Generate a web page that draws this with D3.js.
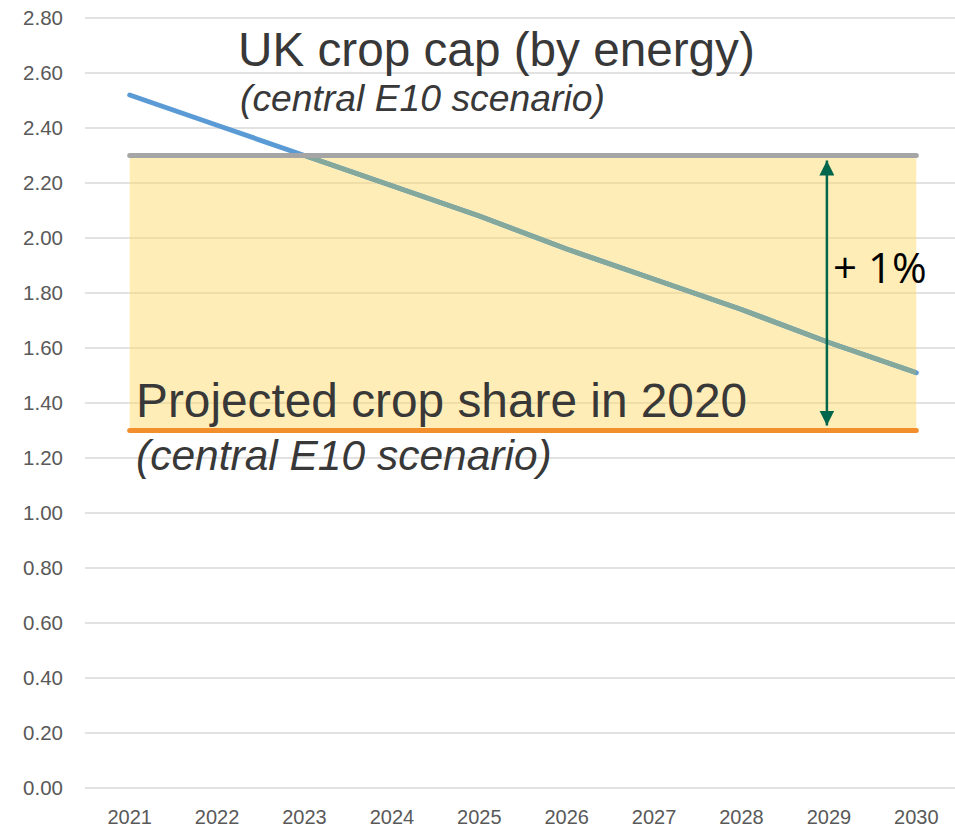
<!DOCTYPE html>
<html>
<head>
<meta charset="utf-8">
<script src="https://cdn.jsdelivr.net/npm/d3@7"></script>
<style>
  body { margin: 0; background: #fff; }
  svg { display: block; }
</style>
</head>
<body>
<div id="chart"></div>
<script>
// data
const years = ['2021', '2022', '2023', '2024', '2025', '2026', '2027', '2028', '2029', '2030'];
const cropShare = [2.52, 2.41, 2.30, 2.19, 2.08, 1.96, 1.85, 1.74, 1.62, 1.51];
const cropCap = 2.30;
const projected2020 = 1.30;
const yTicks = [0, 0.2, 0.4, 0.6, 0.8, 1.0, 1.2, 1.4, 1.6, 1.8, 2.0, 2.2, 2.4, 2.6, 2.8];

const width = 955, height = 829;
const margin = {top: 18, right: -5, bottom: 41, left: 86};

const svg = d3.select('#chart').append('svg')
  .attr('width', width)
  .attr('height', height);

const x = d3.scaleBand().domain(years).range([margin.left, width - margin.right]).padding(0);
const y = d3.scaleLinear().domain([0, 2.8]).range([height - margin.bottom, margin.top]);
const cx = d => x(d) + x.bandwidth() / 2;

const font = '"Liberation Sans", Arial, sans-serif';

// gridlines
svg.append('g')
  .selectAll('line')
  .data(yTicks)
  .enter().append('line')
    .attr('x1', margin.left - 1)
    .attr('x2', width)
    .attr('y1', d => y(d))
    .attr('y2', d => y(d))
    .attr('stroke', '#d9d9d9')
    .attr('stroke-width', 1.5);

// y axis labels
svg.append('g')
  .selectAll('text')
  .data(yTicks)
  .enter().append('text')
    .attr('x', 63)
    .attr('y', d => y(d) + 7)
    .attr('text-anchor', 'end')
    .attr('font-family', font)
    .attr('font-size', 20.5)
    .attr('fill', '#595959')
    .text(d => d3.format('.2f')(d));

// x axis labels
svg.append('g')
  .selectAll('text')
  .data(years)
  .enter().append('text')
    .attr('x', d => cx(d))
    .attr('y', 824)
    .attr('text-anchor', 'middle')
    .attr('font-family', font)
    .attr('font-size', 20)
    .attr('fill', '#595959')
    .text(d => d);

// band between 2020 share and cap
const bandX0 = cx(years[0]), bandX1 = cx(years[years.length - 1]);
svg.append('rect')
  .attr('x', bandX0)
  .attr('y', y(cropCap))
  .attr('width', bandX1 - bandX0)
  .attr('height', y(projected2020) - y(cropCap))
  .attr('fill', '#ffd966')
  .attr('fill-opacity', 0.47);

svg.append('clipPath').attr('id', 'bandClip')
  .append('rect')
    .attr('x', bandX0)
    .attr('y', y(cropCap))
    .attr('width', bandX1 - bandX0)
    .attr('height', y(projected2020) - y(cropCap));

const line = d3.line()
  .x((d, i) => cx(years[i]))
  .y(d => y(d));

svg.append('path')
  .datum(cropShare)
  .attr('d', line)
  .attr('fill', 'none')
  .attr('stroke', '#5b9bd5')
  .attr('stroke-width', 5)
  .attr('stroke-linecap', 'round')
  .attr('stroke-linejoin', 'round');

// part of the line seen through the band
svg.append('path')
  .datum(cropShare)
  .attr('d', line)
  .attr('clip-path', 'url(#bandClip)')
  .attr('fill', 'none')
  .attr('stroke', '#84a89b')
  .attr('stroke-width', 5)
  .attr('stroke-linecap', 'round')
  .attr('stroke-linejoin', 'round');

// cap and 2020 lines
const levels = [
  {value: cropCap, color: '#a5a5a5'},
  {value: projected2020, color: '#f28e2b'}
];
svg.append('g')
  .selectAll('line')
  .data(levels)
  .enter().append('line')
    .attr('x1', bandX0)
    .attr('x2', bandX1)
    .attr('y1', d => y(d.value))
    .attr('y2', d => y(d.value))
    .attr('stroke', d => d.color)
    .attr('stroke-width', 5)
    .attr('stroke-linecap', 'round');

// double arrow
const defs = svg.append('defs');
defs.append('marker')
  .attr('id', 'arrowHead')
  .attr('viewBox', '0 0 10 10')
  .attr('refX', 10)
  .attr('refY', 5)
  .attr('markerWidth', 6)
  .attr('markerHeight', 6)
  .attr('markerUnits', 'strokeWidth')
  .attr('orient', 'auto-start-reverse')
  .append('path')
    .attr('d', 'M0,0 L10,5 L0,10 Z')
    .attr('fill', '#00664c');

const arrowX = cx('2029') - 2;
svg.append('line')
  .attr('x1', arrowX)
  .attr('x2', arrowX)
  .attr('y1', y(cropCap) + 5)
  .attr('y2', y(projected2020) - 5)
  .attr('stroke', '#00664c')
  .attr('stroke-width', 2.5)
  .attr('marker-start', 'url(#arrowHead)')
  .attr('marker-end', 'url(#arrowHead)');

svg.append('text')
  .attr('x', 833)
  .attr('y', 283)
  .attr('font-family', '"Open Sans", Arial, sans-serif')
  .attr('font-size', 42)
  .attr('fill', '#000')
  .text('+ 1%');

// annotations
const notes = [
  {text: 'UK crop cap (by energy)', x: 238, y: 66, size: 47.7, italic: false},
  {text: '(central E10 scenario)', x: 240, y: 111, size: 37.3, italic: true},
  {text: 'Projected crop share in 2020', x: 136, y: 417, size: 47.8, italic: false},
  {text: '(central E10 scenario)', x: 136, y: 470, size: 42.5, italic: true}
];
svg.append('g')
  .selectAll('text')
  .data(notes)
  .enter().append('text')
    .attr('x', d => d.x)
    .attr('y', d => d.y)
    .attr('font-family', font)
    .attr('font-size', d => d.size)
    .attr('font-style', d => d.italic ? 'italic' : 'normal')
    .attr('fill', '#383838')
    .text(d => d.text);
</script>
</body>
</html>
